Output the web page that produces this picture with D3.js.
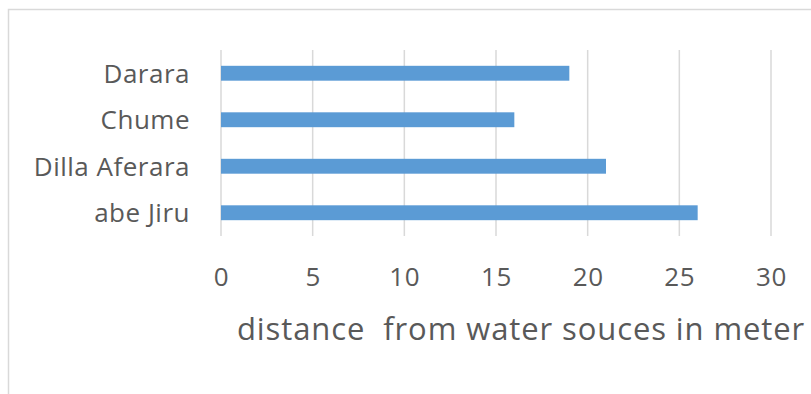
<!DOCTYPE html>
<html>
<head>
<meta charset="utf-8">
<script src="https://cdn.jsdelivr.net/npm/d3@7/dist/d3.min.js"></script>
<style>
  html, body { margin: 0; padding: 0; background: #fff; }
  svg { display: block; }
  text { font-family: "Open Sans", "Noto Sans", sans-serif; fill: #595959; }
</style>
</head>
<body>
<svg id="chart" width="811" height="394"></svg>
<script>
// Sites, listed top to bottom
const sites = ["Darara", "Chume", "Dilla Aferara", "abe Jiru"];
// Distance from water sources (meters)
const distances = [19, 16, 21, 26];
// Horizontal axis ticks
const xTicks = [0, 5, 10, 15, 20, 25, 30];
const axisTitle = "distance  from water souces in meter";

const svg = d3.select("#chart");
const W = 811, H = 394;

// chart area frame
svg.append("rect")
  .attr("x", 8.5).attr("y", 9.5)
  .attr("width", W).attr("height", H)
  .attr("fill", "#fff")
  .attr("stroke", "#d9d9d9").attr("stroke-width", 1.5);

const plot = { left: 221, right: 771, top: 50, bottom: 236 };

const x = d3.scaleLinear().domain([0, 30]).range([plot.left, plot.right]);
const y = d3.scaleBand().domain(sites)
  .range([plot.top, plot.bottom])
  .paddingInner(0.68).paddingOuter(0.34);

// vertical gridlines
svg.append("g")
  .selectAll("line")
  .data(xTicks)
  .join("line")
  .attr("x1", d => x(d)).attr("x2", d => x(d))
  .attr("y1", plot.top).attr("y2", plot.bottom)
  .attr("stroke", "#d9d9d9").attr("stroke-width", 1.5);

// bars
svg.append("g")
  .selectAll("rect")
  .data(sites.map((s, i) => ({ site: s, value: distances[i] })))
  .join("rect")
  .attr("x", x(0))
  .attr("y", d => y(d.site))
  .attr("width", d => x(d.value) - x(0))
  .attr("height", y.bandwidth())
  .attr("fill", "#5b9bd5");

// x axis tick labels
const xAxis = d3.axisBottom(x).tickValues(xTicks).tickSize(0).tickPadding(0);
const gx = svg.append("g")
  .attr("transform", `translate(0,${plot.bottom})`)
  .call(xAxis);
gx.select(".domain").remove();
gx.selectAll("text")
  .attr("dy", null).attr("y", 50)
  .attr("font-size", 26)
  .style("font-family", "\"Open Sans\", sans-serif")
  .style("letter-spacing", "0.6px")
  .attr("fill", "#595959");

// category labels
const yAxis = d3.axisLeft(y).tickSize(0).tickPadding(0);
const gy = svg.append("g")
  .attr("transform", `translate(${plot.left - 31},0)`)
  .call(yAxis);
gy.select(".domain").remove();
gy.selectAll("text")
  .attr("dy", "0.36em")
  .attr("font-size", 26)
  .style("font-family", "\"Open Sans\", sans-serif")
  .style("letter-spacing", "0.5px")
  .attr("fill", "#595959");

// axis title
svg.append("text")
  .attr("x", 237).attr("y", 340)
  .attr("font-size", 31)
  .style("letter-spacing", "0.9px")
  .style("white-space", "pre")
  .text(axisTitle);
</script>
</body>
</html>
